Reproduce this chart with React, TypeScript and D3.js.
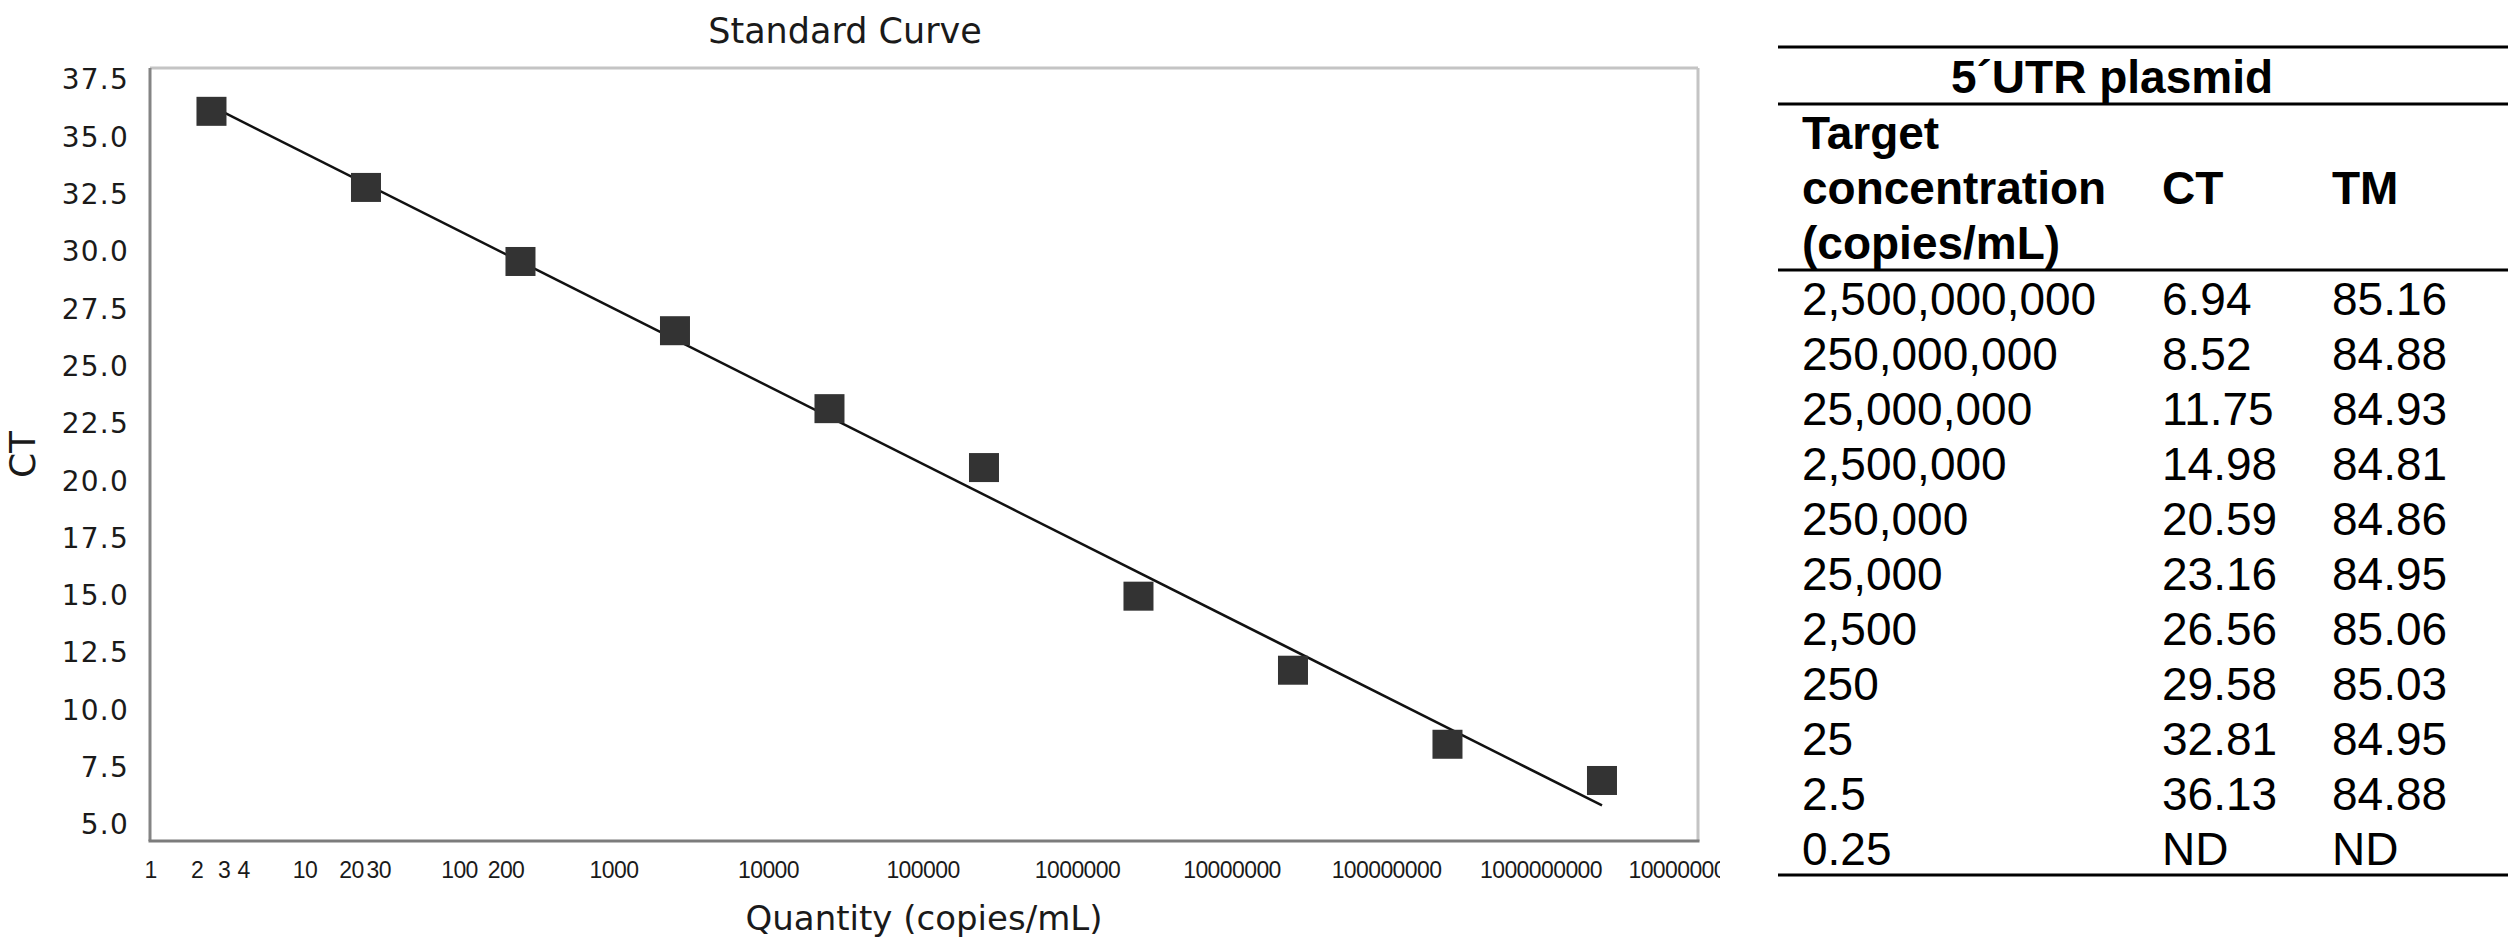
import { useEffect, useRef } from 'react';
import * as d3 from 'd3';

// table rows (target concentration, copies/mL) with their CT and TM
const concentrations = [2500000000, 250000000, 25000000, 2500000, 250000, 25000, 2500, 250, 25, 2.5, 0.25];
const ctValues: (number | null)[] = [6.94, 8.52, 11.75, 14.98, 20.59, 23.16, 26.56, 29.58, 32.81, 36.13, null];
const tmValues: (number | null)[] = [85.16, 84.88, 84.93, 84.81, 84.86, 84.95, 85.06, 85.03, 84.95, 84.88, null];

const xTickValues = [1, 2, 3, 4, 10, 20, 30, 100, 200, 1e3, 1e4, 1e5, 1e6, 1e7, 1e8, 1e9, 1e10];
const yTickValues = [5, 7.5, 10, 12.5, 15, 17.5, 20, 22.5, 25, 27.5, 30, 32.5, 35, 37.5];

const tableTitle = '5\u00B4UTR plasmid';
const headerLines = ['Target', 'concentration', '(copies/mL)'];
const colHeaders = ['CT', 'TM'];

const WIDTH = 2508;
const HEIGHT = 950;

export default function App() {
  const svgRef = useRef<SVGSVGElement>(null);

  useEffect(() => {
    document.body.style.margin = '0';
    const svg = d3.select(svgRef.current);
    svg.selectAll('*').remove();

    const plot = { left: 150, right: 1698, top: 68, bottom: 841 };
    const chartFont = '"DejaVu Sans", Verdana, sans-serif';

    svg.append('defs').append('clipPath').attr('id', 'chart-clip')
      .append('rect').attr('x', 0).attr('y', 0).attr('width', 1720).attr('height', HEIGHT);

    const chart = svg.append('g').attr('clip-path', 'url(#chart-clip)');

    const x = d3.scaleLog().domain([1, 1e10]).range([plot.left, 1695]);
    const y = d3.scaleLinear().domain([4.3, 38.02]).range([plot.bottom, plot.top]);

    // plot frame
    chart.append('rect')
      .attr('x', plot.left).attr('y', plot.top)
      .attr('width', plot.right - plot.left).attr('height', plot.bottom - plot.top)
      .attr('fill', '#fff');
    chart.append('line').attr('x1', plot.left).attr('x2', plot.right).attr('y1', plot.top).attr('y2', plot.top)
      .attr('stroke', '#c4c4c4').attr('stroke-width', 3);
    chart.append('line').attr('x1', plot.right).attr('x2', plot.right).attr('y1', plot.top).attr('y2', plot.bottom)
      .attr('stroke', '#c4c4c4').attr('stroke-width', 3);
    chart.append('line').attr('x1', plot.left).attr('x2', plot.left).attr('y1', plot.top).attr('y2', plot.bottom)
      .attr('stroke', '#848484').attr('stroke-width', 3);
    chart.append('line').attr('x1', plot.left - 1.5).attr('x2', plot.right + 1.5).attr('y1', plot.bottom).attr('y2', plot.bottom)
      .attr('stroke', '#7c7c7c').attr('stroke-width', 3);

    // axes
    const xAxis = chart.append('g')
      .attr('transform', `translate(0,${plot.bottom})`)
      .call(d3.axisBottom(x).tickValues(xTickValues).tickFormat(d => String(d)).tickSize(0).tickPadding(21));
    xAxis.select('.domain').remove();
    xAxis.selectAll('text')
      .attr('font-family', '"Liberation Sans", Arial, sans-serif')
      .attr('font-size', 23)
      .attr('letter-spacing', -0.6)
      .attr('fill', '#1a1a1a');

    const yAxis = chart.append('g')
      .attr('transform', `translate(${plot.left},0)`)
      .call(d3.axisLeft(y).tickValues(yTickValues).tickFormat(d3.format('.1f')).tickSize(0).tickPadding(21));
    yAxis.select('.domain').remove();
    yAxis.selectAll('text')
      .attr('font-family', chartFont)
      .attr('font-size', 28)
      .attr('letter-spacing', 1.2)
      .attr('fill', '#1a1a1a');

    // titles
    chart.append('text').attr('x', 845).attr('y', 43).attr('text-anchor', 'middle')
      .attr('font-family', chartFont).attr('font-size', 35).attr('fill', '#1a1a1a')
      .text('Standard Curve');
    chart.append('text').attr('x', (plot.left + plot.right) / 2).attr('y', 930).attr('text-anchor', 'middle')
      .attr('font-family', chartFont).attr('font-size', 34).attr('fill', '#1a1a1a')
      .text('Quantity (copies/mL)');
    chart.append('text')
      .attr('transform', `translate(35,${(plot.top + plot.bottom) / 2}) rotate(-90)`)
      .attr('text-anchor', 'middle')
      .attr('font-family', chartFont).attr('font-size', 36).attr('fill', '#1a1a1a')
      .text('CT');

    // points and fitted standard curve
    const points = concentrations
      .map((q, i) => ({ q, ct: ctValues[i] }))
      .filter(d => d.ct !== null) as { q: number; ct: number }[];

    const lx = points.map(d => Math.log10(d.q));
    const mx = d3.mean(lx) as number;
    const my = d3.mean(points, d => d.ct) as number;
    const slope = d3.sum(points, (d, i) => (lx[i] - mx) * (d.ct - my)) / d3.sum(lx, v => (v - mx) ** 2);
    const fit = (q: number) => my + slope * (Math.log10(q) - mx);
    const [qMin, qMax] = d3.extent(points, d => d.q) as [number, number];

    const line = d3.line<number>().x(q => x(q)).y(q => y(fit(q)));
    chart.append('path')
      .datum([qMin, qMax])
      .attr('fill', 'none')
      .attr('stroke', '#111')
      .attr('stroke-width', 2.5)
      .attr('d', line);

    chart.append('g').selectAll('rect')
      .data(points)
      .join('rect')
      .attr('x', d => x(d.q) - 15)
      .attr('y', d => y(d.ct) - 14.5)
      .attr('width', 30)
      .attr('height', 29)
      .attr('fill', '#333');

    // table
    const tableFont = '"Liberation Sans", Arial, sans-serif';
    const table = svg.append('g').attr('font-family', tableFont).attr('font-size', 46).attr('fill', '#000');
    const tLeft = 1778;
    const tRight = WIDTH;
    const colX = [1802, 2162, 2332];
    [47, 104, 270, 875].forEach(ly => {
      table.append('line').attr('x1', tLeft).attr('x2', tRight).attr('y1', ly).attr('y2', ly)
        .attr('stroke', '#000').attr('stroke-width', 3);
    });
    table.append('text').attr('x', 2112).attr('y', 93).attr('text-anchor', 'middle')
      .attr('font-weight', 'bold').text(tableTitle);
    headerLines.forEach((t, i) => {
      table.append('text').attr('x', colX[0]).attr('y', 149 + i * 55).attr('font-weight', 'bold').text(t);
    });
    colHeaders.forEach((t, i) => {
      table.append('text').attr('x', colX[i + 1]).attr('y', 204).attr('font-weight', 'bold').text(t);
    });

    const fmtConc = d3.format(',');
    const fmt2 = (v: number | null) => (v === null ? 'ND' : v.toFixed(2));
    concentrations.forEach((q, i) => {
      const ry = 315 + i * 55;
      table.append('text').attr('x', colX[0]).attr('y', ry).text(fmtConc(q));
      table.append('text').attr('x', colX[1]).attr('y', ry).text(fmt2(ctValues[i]));
      table.append('text').attr('x', colX[2]).attr('y', ry).text(fmt2(tmValues[i]));
    });
  }, []);

  return <svg ref={svgRef} width={WIDTH} height={HEIGHT} style={{ display: 'block', background: '#fff' }} />;
}
